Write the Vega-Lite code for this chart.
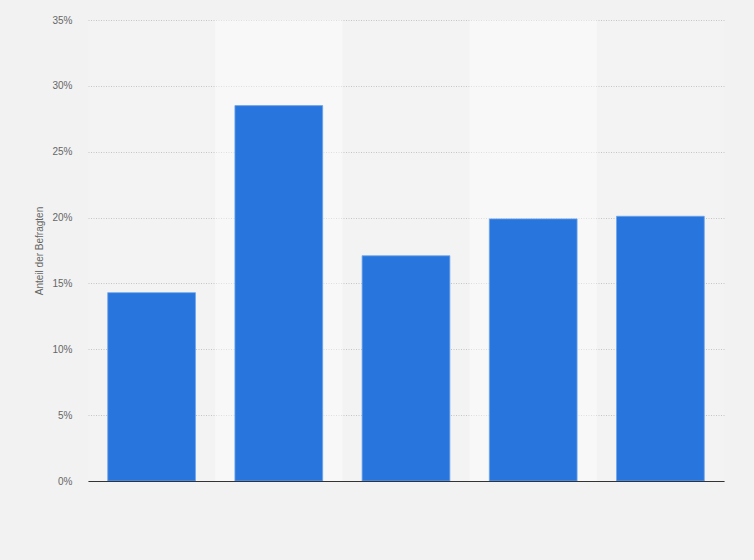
{
  "$schema": "https://vega.github.io/schema/vega-lite/v6.json",
  "width": 636,
  "height": 461,
  "autosize": "none",
  "padding": {"left": 88, "top": 20, "right": 30, "bottom": 79},
  "background": "#f2f2f2",
  "config": {
    "view": {"stroke": null, "fill": "#f3f3f3"},
    "font": "Liberation Sans"
  },
  "data": {
    "values": [
      {"kategorie": "A", "anteil": 0.143},
      {"kategorie": "B", "anteil": 0.285},
      {"kategorie": "C", "anteil": 0.171},
      {"kategorie": "D", "anteil": 0.199},
      {"kategorie": "E", "anteil": 0.201}
    ]
  },
  "encoding": {
    "x": {
      "field": "kategorie",
      "type": "nominal",
      "sort": ["A", "B", "C", "D", "E"],
      "scale": {"paddingInner": 0, "paddingOuter": 0},
      "axis": {
        "title": null,
        "labels": false,
        "ticks": false,
        "grid": false,
        "domain": true,
        "domainColor": "#333333",
        "domainWidth": 1.2
      }
    }
  },
  "layer": [
    {
      "transform": [{"filter": {"field": "kategorie", "oneOf": ["B", "D"]}}],
      "mark": {"type": "rect", "fill": "#ffffff", "opacity": 0.45},
      "encoding": {}
    },
    {
      "mark": {
        "type": "bar",
        "width": {"band": 0.69},
        "fill": "#2876dd",
        "stroke": "#6ea4ea",
        "strokeWidth": 0.8
      },
      "encoding": {
        "y": {
          "field": "anteil",
          "type": "quantitative",
          "scale": {"domain": [0, 0.35], "nice": false},
          "axis": {
            "title": "Anteil der Befragten",
            "titleFont": "Liberation Sans",
            "titleFontSize": 10,
            "titleFontWeight": "normal",
            "titleColor": "#666666",
            "titlePadding": 7,
            "values": [0, 0.05, 0.1, 0.15, 0.2, 0.25, 0.3, 0.35],
            "format": ".0%",
            "labelFontSize": 10,
            "labelColor": "#666666",
            "labelPadding": 16,
            "domain": false,
            "ticks": false,
            "grid": true,
            "gridColor": "#c4c4c4",
            "gridDash": [1, 1.5],
            "gridWidth": 1
          }
        }
      }
    }
  ]
}
